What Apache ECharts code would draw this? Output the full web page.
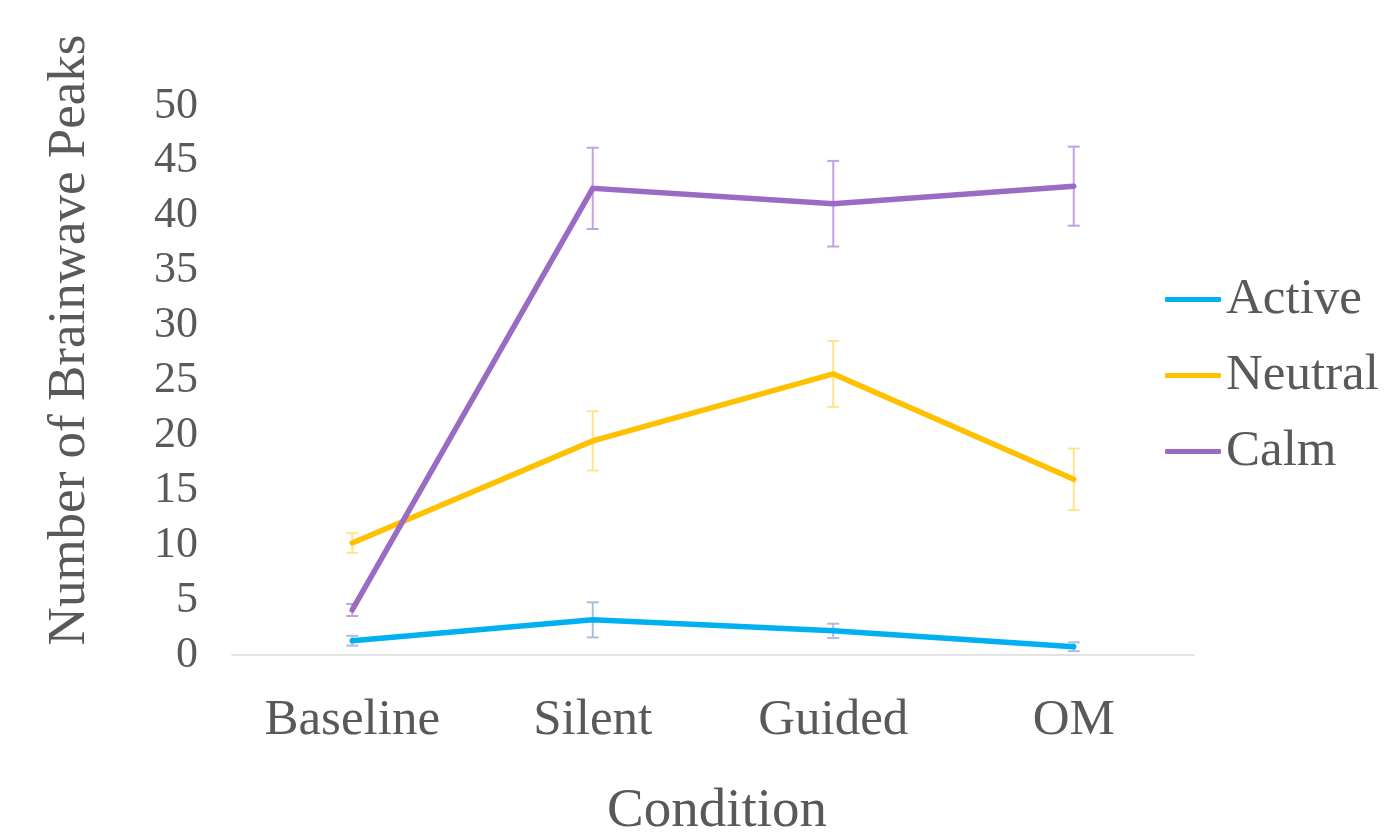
<!DOCTYPE html>
<html>
<head>
<meta charset="utf-8">
<script src="https://cdn.jsdelivr.net/npm/echarts@6/dist/echarts.min.js"></script>
<style>
html,body{margin:0;padding:0;background:#fff;}
#chart{width:1398px;height:836px;}
</style>
</head>
<body>
<div id="chart"></div>
<script>
const categories = ['Baseline', 'Silent', 'Guided', 'OM'];
const seriesNames = ['Active', 'Neutral', 'Calm'];
const activeValues = [1.3, 3.2, 2.2, 0.75];
const activeErrors = [0.45, 1.6, 0.65, 0.4];
const neutralValues = [10.2, 19.5, 25.6, 16.0];
const neutralErrors = [0.9, 2.7, 3.0, 2.8];
const calmValues = [4.1, 42.5, 41.1, 42.7];
const calmErrors = [0.55, 3.7, 3.9, 3.6];
const yTicks = [0, 5, 10, 15, 20, 25, 30, 35, 40, 45, 50];

const lineColors = ['#00b0f0', '#ffc000', '#9b6bc3'];
const errColors = ['#a9bfdc', '#ffe38f', '#c3a2e2'];
const textColor = '#595959';
const fontFam = '"Liberation Serif", "DejaVu Serif", serif';

const valueSets = [activeValues, neutralValues, calmValues];
const errorSets = [activeErrors, neutralErrors, calmErrors];

const chart = echarts.init(document.getElementById('chart'));

function errSeries(idx) {
  const data = valueSets[idx].map((v, i) => [i, v - errorSets[idx][i], v + errorSets[idx][i]]);
  return {
    type: 'custom',
    name: seriesNames[idx] + ' error',
    z: 1,
    silent: true,
    data: data,
    encode: { x: 0, y: [1, 2] },
    renderItem: function (params, api) {
      const x = api.value(0);
      const lo = api.coord([x, api.value(1)]);
      const hi = api.coord([x, api.value(2)]);
      const hw = 6;
      const style = { stroke: errColors[idx], lineWidth: 2, fill: null };
      return {
        type: 'group',
        children: [
          { type: 'line', shape: { x1: lo[0], y1: lo[1], x2: hi[0], y2: hi[1] }, style: style },
          { type: 'line', shape: { x1: lo[0] - hw, y1: lo[1], x2: lo[0] + hw, y2: lo[1] }, style: style },
          { type: 'line', shape: { x1: hi[0] - hw, y1: hi[1], x2: hi[0] + hw, y2: hi[1] }, style: style }
        ]
      };
    }
  };
}

function lineSeries(idx) {
  return {
    type: 'line',
    name: seriesNames[idx],
    z: 3,
    data: valueSets[idx],
    symbol: 'none',
    lineStyle: { color: lineColors[idx], width: 5.5, cap: 'round', join: 'miter' },
    itemStyle: { color: lineColors[idx] }
  };
}

chart.setOption({
  animation: false,
  backgroundColor: '#ffffff',
  textStyle: { fontFamily: fontFam, color: textColor },
  grid: { left: 232, right: 204, top: 106, bottom: 181, containLabel: false },
  legend: {
    orient: 'vertical',
    left: 1160,
    top: 269,
    data: seriesNames,
    icon: 'roundRect',
    itemWidth: 56,
    itemHeight: 5,
    itemGap: 25,
    textStyle: { fontFamily: fontFam, fontSize: 51, color: textColor, lineHeight: 50 }
  },
  xAxis: {
    type: 'category',
    data: categories,
    boundaryGap: true,
    axisLine: { show: true, lineStyle: { color: '#d9d9d9', width: 1.5 } },
    axisTick: { show: false },
    axisLabel: { fontFamily: fontFam, fontSize: 51, color: textColor, margin: 40 },
    splitLine: { show: false }
  },
  yAxis: {
    type: 'value',
    min: yTicks[0],
    max: yTicks[yTicks.length - 1],
    interval: 5,
    axisLine: { show: false },
    axisTick: { show: false },
    splitLine: { show: false },
    axisLabel: { fontFamily: fontFam, fontSize: 44, color: textColor, margin: 34 }
  },
  graphic: [
    {
      type: 'text',
      x: 70, y: 340,
      rotation: Math.PI / 2,
      style: {
        text: 'Number of Brainwave Peaks',
        font: '53px ' + fontFam,
        fill: textColor,
        align: 'center',
        verticalAlign: 'middle'
      }
    },
    {
      type: 'text',
      x: 717, y: 812,
      style: {
        text: 'Condition',
        font: '55px ' + fontFam,
        fill: textColor,
        align: 'center',
        verticalAlign: 'middle'
      }
    }
  ],
  series: [errSeries(0), errSeries(1), errSeries(2), lineSeries(0), lineSeries(1), lineSeries(2)]
});
</script>
</body>
</html>
